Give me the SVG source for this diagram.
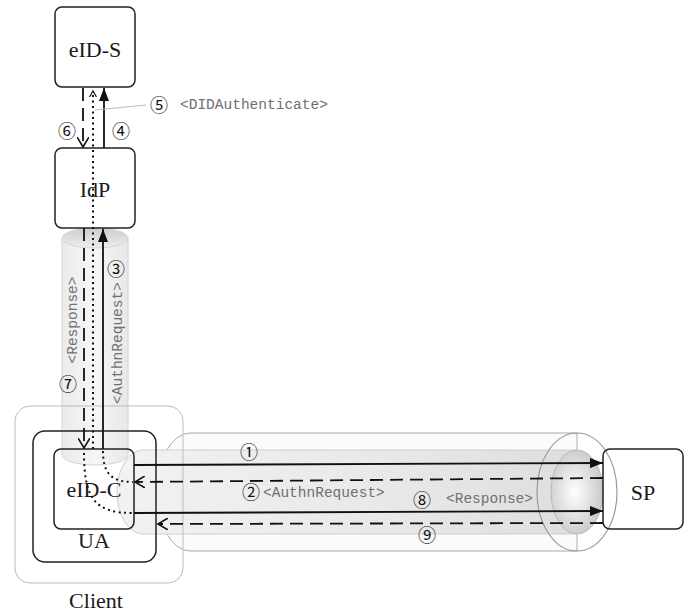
<svg xmlns="http://www.w3.org/2000/svg" width="694" height="615" viewBox="0 0 694 615">
<style>
.box{fill:none;stroke:#222;stroke-width:1.5}
.lbl{font-family:"Liberation Serif",serif;font-size:22px;fill:#1a1a1a;text-anchor:middle}
.num{font-family:"Noto Sans CJK JP","DejaVu Sans",sans-serif;font-size:18px;fill:#111;text-anchor:middle;dominant-baseline:central}
.msg{font-family:"Liberation Mono",monospace;font-size:14.5px;fill:#707070}
.solid{stroke:#111;stroke-width:1.8;fill:none;marker-end:url(#fill)}
.dash{stroke:#111;stroke-width:1.8;fill:none;stroke-dasharray:13 7;marker-end:url(#open)}
.dot{stroke:#111;stroke-width:2;fill:none;stroke-dasharray:2 3.5}
</style>
<defs>
<marker id="fill" markerUnits="userSpaceOnUse" markerWidth="14" markerHeight="10" refX="13" refY="5" orient="auto"><path d="M0,0 L13,5 L0,10 z" fill="#111"/></marker>
<marker id="open" markerUnits="userSpaceOnUse" markerWidth="12" markerHeight="12" refX="10" refY="6" orient="auto"><path d="M0,0 L10,6 L0,12" fill="none" stroke="#111" stroke-width="1.6"/></marker>
<marker id="small" markerUnits="userSpaceOnUse" markerWidth="8" markerHeight="8" refX="6" refY="4" orient="auto"><path d="M0,0.5 L6,4 L0,7.5" fill="none" stroke="#111" stroke-width="1.2"/></marker>
<linearGradient id="vt" x1="0" y1="0" x2="1" y2="0"><stop offset="0" stop-color="#ebebeb"/><stop offset="0.5" stop-color="#f6f6f6"/><stop offset="1" stop-color="#e8e8e8"/></linearGradient>
<linearGradient id="vtop" x1="0" y1="0" x2="0" y2="1"><stop offset="0" stop-color="#cdcdcd"/><stop offset="1" stop-color="#eeeeee"/></linearGradient>
<linearGradient id="ht" x1="0" y1="0" x2="1" y2="0"><stop offset="0" stop-color="#f2f2f2"/><stop offset="0.6" stop-color="#e8e8e8"/><stop offset="1" stop-color="#dedede"/></linearGradient>
<radialGradient id="he" cx="0.45" cy="0.5" r="0.6"><stop offset="0" stop-color="#ffffff"/><stop offset="1" stop-color="#c4c4c4"/></radialGradient>
</defs>
<g id="tubes">
<path d="M62 238 V455 A33 10 0 0 0 128 455 V238 Z" fill="url(#vt)" stroke="#d4d4d4" stroke-width="1"/>
<ellipse cx="95" cy="238" rx="33" ry="10" fill="url(#vtop)" stroke="#d4d4d4" stroke-width="1"/>
<path d="M190 433 H577 V551 H190 A33 59 0 0 1 190 433 Z" fill="#fbfbfb" stroke="#aaa" stroke-width="1"/>
<path d="M143 450 H577 V534 H143 A26 42 0 0 1 143 450 Z" fill="url(#ht)" stroke="#cfcfcf" stroke-width="1"/>
<ellipse cx="577" cy="492" rx="26" ry="42" fill="url(#he)" stroke="#bbb" stroke-width="1"/>
<ellipse cx="577" cy="492" rx="40" ry="59" fill="none" stroke="#999" stroke-width="1.2"/>
</g>
<g id="eID-S"><rect class="box" x="55" y="7" width="80" height="80" rx="7"/><text class="lbl" x="95" y="57">eID-S</text></g>
<g id="IdP"><rect class="box" x="55" y="148" width="80" height="80" rx="7"/><text class="lbl" x="95" y="197">IdP</text></g>
<g id="Client"><rect x="15" y="406" width="168" height="177" rx="15" fill="none" stroke="#bbb" stroke-width="1"/><text class="lbl" x="96" y="608">Client</text></g>
<g id="UA"><rect class="box" x="33" y="431" width="123" height="131" rx="12"/><text class="lbl" x="94" y="548">UA</text></g>
<g id="eID-C"><rect class="box" x="54" y="449" width="80" height="80" rx="7"/><text class="lbl" x="94" y="497">eID-C</text></g>
<g id="SP"><rect class="box" x="603" y="449" width="80" height="80" rx="7"/><text class="lbl" x="643" y="500">SP</text></g>
<g id="connectors">
<line class="dash" x1="83" y1="88" x2="83" y2="147"/>
<line class="solid" x1="104" y1="148" x2="104" y2="88"/>
<line class="dot" x1="93" y1="449" x2="93" y2="91" marker-end="url(#small)"/>
<line x1="95" y1="110" x2="146" y2="105" stroke="#bbb" stroke-width="1"/>
<line class="dash" x1="84" y1="228" x2="84" y2="448"/>
<line class="solid" x1="103" y1="449" x2="103" y2="229"/>
<path class="dot" d="M103 451 C103 474 112 482 133 482"/>
<path class="dot" d="M84 453 C84 500 96 513 133 513"/>
<line class="solid" x1="134" y1="465" x2="603" y2="463"/>
<line class="dash" x1="603" y1="478" x2="135" y2="482"/>
<line class="solid" x1="134" y1="513" x2="603" y2="511"/>
<line class="dash" x1="603" y1="523" x2="158" y2="524"/>
</g>
<g id="labels">
<text class="num" x="159" y="104">⑤</text>
<text class="msg" x="180" y="109">&lt;DIDAuthenticate&gt;</text>
<text class="num" x="67" y="130">⑥</text>
<text class="num" x="121" y="130">④</text>
<text class="num" x="116" y="268">③</text>
<text class="num" x="68" y="383">⑦</text>
<text class="msg" transform="translate(77 320) rotate(-90)" text-anchor="middle">&lt;Response&gt;</text>
<text class="msg" transform="translate(122 343) rotate(-90)" text-anchor="middle">&lt;AuthnRequest&gt;</text>
<text class="num" x="249" y="451">①</text>
<text class="num" x="251" y="491">②</text>
<text class="msg" x="263" y="497">&lt;AuthnRequest&gt;</text>
<text class="num" x="422" y="499">⑧</text>
<text class="msg" x="446" y="503">&lt;Response&gt;</text>
<text class="num" x="427" y="534">⑨</text>
</g>
</svg>
